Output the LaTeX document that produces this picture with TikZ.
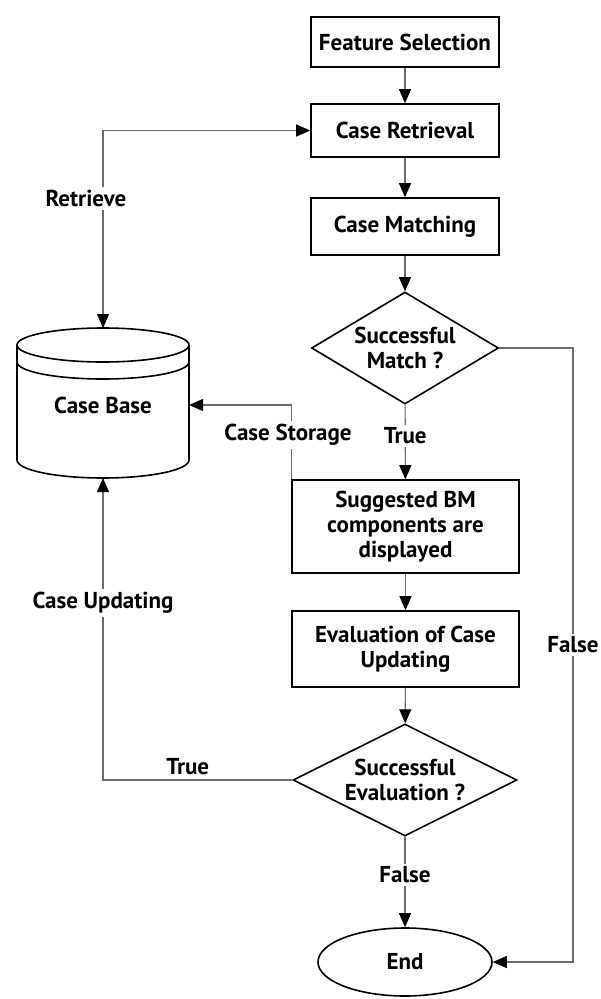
\documentclass[tikz,border=0pt]{standalone}
\usepackage{fontspec}
\setmainfont{PT Sans}
\usetikzlibrary{
    positioning,           % Relative positioning
    shapes.geometric,      % Diamond and ellipse
    arrows.meta,           % Modern arrow tips
    calc                   % Coordinate calculations
}

\tikzset{
    every node/.style={font=\fontsize{23}{25}\selectfont\bfseries, align=center},
    procbox/.style={draw, line width=1.6pt, rectangle, inner sep=2pt},
    decision/.style={draw, line width=1.6pt, diamond, inner sep=0pt, aspect=1.67},
    terminal/.style={draw, line width=1.6pt, ellipse, inner sep=0pt},
    flow/.style={draw=black!58, line width=1.1pt,
        -{Triangle[width=12pt,length=14pt,color=black]}},
    flowlabel/.style={fill=white, inner sep=3pt}
}

\begin{document}
\begin{tikzpicture}[x=1pt,y=-1pt]
    \useasboundingbox (0,0) rectangle (600,999);

    % main column
    \node[procbox, minimum width=188pt, minimum height=50pt] (fsel) at (405,42) {Feature Selection};
    \node[procbox, minimum width=188pt, minimum height=53pt] (cret) at (405,130.5) {Case Retrieval};
    \node[procbox, minimum width=188pt, minimum height=57pt] (cmat) at (405,226.5) {Case Matching};
    \node[decision, minimum width=187pt, minimum height=112pt] (dmatch) at (405,348) {Successful\\Match ?};
    \node[procbox, minimum width=227pt, minimum height=93pt] (sugg) at (405.5,526.5) {Suggested BM\\components are\\displayed};
    \node[procbox, minimum width=227pt, minimum height=76pt] (eval) at (405.5,649) {Evaluation of Case\\Updating};
    \node[decision, minimum width=224pt, minimum height=112pt, aspect=2] (deval) at (405,780) {Successful\\Evaluation ?};
    \node[terminal, minimum width=174pt, minimum height=68pt] (end) at (405,962) {End};

    % case base drum (y runs downwards, so lower arcs go 180 -> 0)
    \begin{scope}[line width=1.6pt]
        \draw (17,345) -- (17,460) arc[start angle=180, end angle=0, x radius=86, y radius=18] -- (189,345);
        \draw (103,345) ellipse[x radius=86, y radius=17];
        \draw (17,362) arc[start angle=180, end angle=0, x radius=86, y radius=17];
    \end{scope}
    \node (base) at (103,405) {Case Base};
    \coordinate (basetop) at (103,328);
    \coordinate (basebot) at (103,478);
    \coordinate (baseright) at (189,405);

    % connectors
    \draw[flow] (fsel) -- (cret);
    \draw[flow] (cret) -- (cmat);
    \draw[flow] (cmat) -- (dmatch);
    \draw[flow] (dmatch) -- node[flowlabel, pos=0.42] {True} (sugg);
    \draw[flow] (sugg) -- (eval);
    \draw[flow] (eval) -- (deval);
    \draw[flow] (deval) -- node[flowlabel, pos=0.42] {False} (end);
    \draw[flow] (dmatch.east) -| (573,645) node[flowlabel] {False} |- (end.east);
    \draw[flow, {Triangle[width=12pt,length=14pt,color=black]}-{Triangle[width=12pt,length=14pt,color=black]}]
        (basetop) |- node[flowlabel, pos=0.328, xshift=-17pt] {Retrieve} (cret.west);
    \draw[flow] (deval.west) -| node[pos=0.276, anchor=south, yshift=1pt] {True}
        node[flowlabel, pos=0.793] {Case Updating} (basebot);
    \draw[flow] (sugg.north west) |- (baseright);
    \node[flowlabel] (storelbl) at (288,435) {Case Storage};
\end{tikzpicture}
\end{document}
